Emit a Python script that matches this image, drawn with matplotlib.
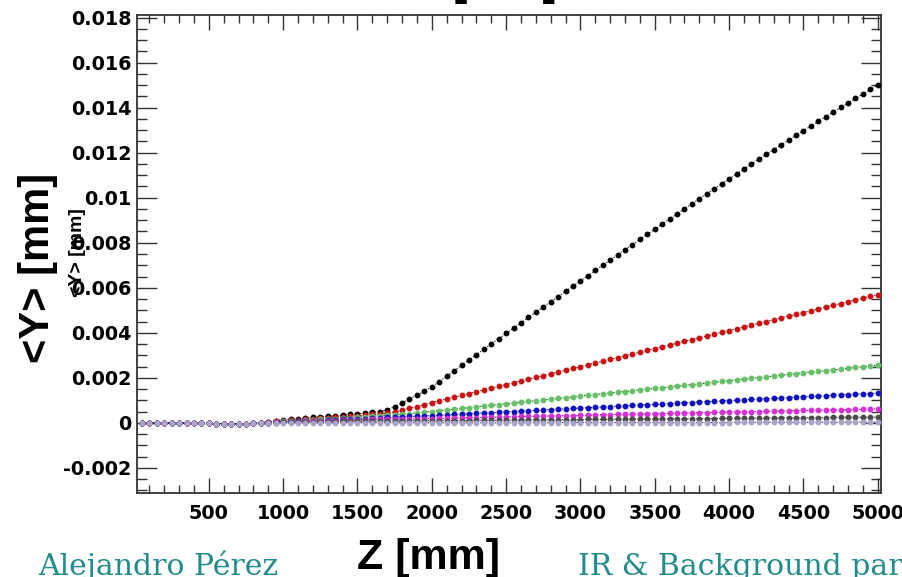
import numpy as np
import matplotlib
matplotlib.use("Agg")
import matplotlib.pyplot as plt
from matplotlib.ticker import MultipleLocator, FuncFormatter

# Z positions (mm)
z = np.arange(50, 5001, 50)

# <Y> values in units of 1e-4 mm
early = [0.0, 0.0, -0.05, -0.1, -0.1, -0.15, -0.2, -0.25, -0.3, -0.3,
         -0.35, -0.4, -0.4, -0.4, -0.35, -0.3]
black = early + [0.1, 0.5, 1.0,
    1.4, 1.7, 1.9, 2.1, 2.4, 2.6, 2.9, 3.1, 3.4, 3.7, 4.0, 4.3, 4.6, 5.0, 5.8, 7.2, 8.9, 10.6, 12.3, 14.0,
    15.9, 18.3, 20.7, 23.1, 25.5, 27.9, 30.3, 32.6, 35.0, 37.4, 39.7,
    42.1, 44.4, 46.8, 49.1, 51.5, 53.8, 56.1, 58.4, 60.8, 63.1,
    65.4, 67.7, 70.0, 72.3, 74.6, 76.9, 79.2, 81.5, 83.8, 86.0,
    88.3, 90.6, 92.8, 95.1, 97.3, 99.6, 101.8, 104.0, 106.2, 108.4,
    110.6, 112.8, 115.0, 117.1, 119.3, 121.4, 123.5, 125.6, 127.7, 129.8,
    131.9, 133.9, 136.0, 138.0, 140.1, 142.1, 144.1, 146.1, 148.1, 150.1]
red = early + [0.0, 0.3, 0.7,
    1.0, 1.2, 1.4, 1.6, 1.8, 2.0, 2.2, 2.4, 2.7, 2.9, 3.2, 3.4, 3.7, 4.0, 4.3, 4.8, 5.6, 6.4, 7.2, 8.1,
    9.0, 9.8, 10.6, 11.4, 12.2, 13.0, 13.8, 14.6, 15.4, 16.2, 17.0,
    17.8, 18.6, 19.4, 20.2, 21.0, 21.8, 22.6, 23.4, 24.2, 25.0,
    25.8, 26.6, 27.4, 28.2, 29.0, 29.8, 30.6, 31.4, 32.2, 33.0,
    33.8, 34.6, 35.4, 36.2, 37.0, 37.8, 38.6, 39.4, 40.2, 41.0,
    41.8, 42.6, 43.4, 44.2, 45.0, 45.8, 46.6, 47.4, 48.2, 49.0,
    49.8, 50.6, 51.4, 52.2, 53.0, 53.8, 54.6, 55.4, 56.2, 57.0]
green = early + [-0.1, 0.1, 0.4,
    0.6, 0.8, 1.0, 1.1, 1.3, 1.5, 1.7, 1.9, 2.1, 2.3, 2.5, 2.7, 2.9, 3.1, 3.3, 3.5, 3.8, 4.1, 4.4, 4.7,
    5.0, 5.3, 5.7, 6.0, 6.4, 6.7, 7.1, 7.4, 7.7, 8.1, 8.4,
    8.8, 9.1, 9.5, 9.8, 10.1, 10.5, 10.8, 11.2, 11.5, 11.9,
    12.2, 12.5, 12.9, 13.2, 13.6, 13.9, 14.3, 14.6, 14.9, 15.3,
    15.6, 16.0, 16.3, 16.7, 17.0, 17.3, 17.7, 18.0, 18.4, 18.7,
    19.1, 19.4, 19.7, 20.1, 20.4, 20.8, 21.1, 21.5, 21.8, 22.2,
    22.5, 22.8, 23.2, 23.5, 23.9, 24.2, 24.6, 24.9, 25.2, 25.6]
blue = early + [-0.1, 0.1, 0.3,
    0.4, 0.5, 0.6, 0.8, 0.9, 1.0, 1.2, 1.3, 1.5, 1.6, 1.8, 1.9, 2.1, 2.2, 2.4, 2.5, 2.7, 2.8, 2.9, 3.1,
    3.2, 3.4, 3.5, 3.7, 3.9, 4.0, 4.2, 4.4, 4.5, 4.7, 4.9,
    5.0, 5.2, 5.4, 5.5, 5.7, 5.9, 6.0, 6.2, 6.4, 6.5,
    6.7, 6.9, 7.0, 7.2, 7.4, 7.5, 7.7, 7.9, 8.0, 8.2,
    8.4, 8.5, 8.7, 8.9, 9.0, 9.2, 9.4, 9.5, 9.7, 9.9,
    10.0, 10.2, 10.4, 10.5, 10.7, 10.9, 11.0, 11.2, 11.4, 11.5,
    11.7, 11.9, 12.0, 12.2, 12.4, 12.5, 12.7, 12.9, 13.0, 13.2]
magenta = early + [-0.1, 0.0, 0.2,
    0.3, 0.4, 0.5, 0.6, 0.7, 0.8, 0.9, 1.0, 1.1, 1.2, 1.3, 1.4, 1.5, 1.5, 1.6, 1.6, 1.7, 1.7, 1.8, 1.8,
    1.9, 2.0, 2.0, 2.1, 2.2, 2.3, 2.3, 2.4, 2.5, 2.5, 2.6,
    2.7, 2.8, 2.8, 2.9, 3.0, 3.0, 3.1, 3.2, 3.2, 3.3,
    3.4, 3.5, 3.5, 3.6, 3.7, 3.7, 3.8, 3.9, 4.0, 4.0,
    4.1, 4.2, 4.2, 4.3, 4.4, 4.5, 4.5, 4.6, 4.7, 4.7,
    4.8, 4.9, 5.0, 5.0, 5.1, 5.2, 5.2, 5.3, 5.4, 5.5,
    5.5, 5.6, 5.7, 5.7, 5.8, 5.9, 6.0, 6.0, 6.1, 6.2]
darkgray = early + [-0.15, 0.0, 0.1,
    0.2, 0.2, 0.3, 0.3, 0.4, 0.4, 0.5, 0.5, 0.6, 0.6, 0.6, 0.7, 0.7, 0.7, 0.8, 0.8, 0.8, 0.8, 0.9, 0.9,
    0.9, 0.9, 1.0, 1.0, 1.0, 1.0, 1.1, 1.1, 1.1, 1.1, 1.2,
    1.2, 1.2, 1.3, 1.3, 1.3, 1.3, 1.4, 1.4, 1.4, 1.4,
    1.5, 1.5, 1.5, 1.6, 1.6, 1.6, 1.6, 1.7, 1.7, 1.7,
    1.7, 1.8, 1.8, 1.8, 1.8, 1.9, 1.9, 1.9, 2.0, 2.0,
    2.0, 2.0, 2.1, 2.1, 2.1, 2.1, 2.2, 2.2, 2.2, 2.2,
    2.3, 2.3, 2.3, 2.4, 2.4, 2.4, 2.4, 2.5, 2.5, 2.5]
lavender = early + [-0.2, -0.1, 0.0,
    0.0, 0.0, 0.0, 0.0, 0.0, 0.0, 0.0, 0.0, 0.0, 0.0, 0.0, 0.0, 0.0, 0.0, 0.0, 0.0, 0.0, 0.0, 0.0, 0.0,
    0.0, 0.0, 0.0, 0.0, 0.0, 0.0, 0.0, 0.0, 0.0, 0.0, 0.0,
    0.0, 0.0, 0.0, 0.0, 0.0, 0.0, 0.1, 0.1, 0.1, 0.1,
    0.1, 0.1, 0.1, 0.1, 0.1, 0.1, 0.1, 0.1, 0.1, 0.1,
    0.1, 0.1, 0.1, 0.1, 0.1, 0.1, 0.1, 0.1, 0.1, 0.1,
    0.2, 0.2, 0.2, 0.2, 0.2, 0.2, 0.2, 0.2, 0.2, 0.2,
    0.2, 0.2, 0.2, 0.2, 0.2, 0.3, 0.3, 0.3, 0.3, 0.3]

series = [black, red, green, blue, magenta, darkgray, lavender]
colors = ["#000000", "#cc1111", "#66c266", "#1010c0", "#d830d8", "#4a4a4a", "#aaa3cc"]

x_ticks = [500, 1000, 1500, 2000, 2500, 3000, 3500, 4000, 4500, 5000]

fig = plt.figure(figsize=(9.03, 5.77), dpi=100)
ax = fig.add_axes([137/903, 1-493/577, (881-137)/903, (493-15)/577])

for vals, c in zip(series, colors):
    y = np.array(vals) * 1e-4
    ax.plot(z, y, linestyle=(0, (1.5, 1.5)), color="#222222", lw=0.7, zorder=2)
    ax.plot(z, y, linestyle="none", marker="o", ms=3.2, mfc=c, mec=c, zorder=3)

ax.set_xlim(17, 5022)
ax.set_ylim(-0.00312, 0.01812)
ax.set_xticks(x_ticks)
ax.xaxis.set_minor_locator(MultipleLocator(100))
ax.yaxis.set_major_locator(MultipleLocator(0.002))
ax.yaxis.set_minor_locator(MultipleLocator(0.0005))

def yfmt(v, pos):
    if abs(v) < 1e-9:
        return "0"
    s = f"{v:.3f}"
    if s.endswith("0"):
        s = s[:-1]
    return s
ax.yaxis.set_major_formatter(FuncFormatter(yfmt))

for sp in ax.spines.values():
    sp.set_color("#333333")
    sp.set_linewidth(1.3)

ax.tick_params(axis="y", which="major", direction="in", length=14.4, width=1.0,
               color="#333333", left=True, right=True, pad=4)
ax.tick_params(axis="y", which="minor", direction="in", length=7.2, width=1.0,
               color="#333333", left=True, right=True)
ax.tick_params(axis="x", which="major", direction="in", length=10.5, width=1.0,
               color="#333333", bottom=True, top=True, pad=8)
ax.tick_params(axis="x", which="minor", direction="in", length=5.5, width=1.0,
               color="#333333", bottom=True, top=True)

for lab in ax.get_xticklabels() + ax.get_yticklabels():
    lab.set_fontfamily("DejaVu Sans")
    lab.set_fontweight("bold")
    lab.set_fontsize(13.8)

# Axis titles
fig.text(38/903, 1-267.5/577, "<Y> [mm]", rotation=90, ha="center", va="center",
         fontsize=30, fontweight="bold", family="Liberation Sans")
fig.text(78/903, 1-252.5/577, "<Y> [mm]", rotation=90, ha="center", va="center",
         fontsize=14, fontweight="bold", family="Liberation Sans")
fig.text(429/903, 1-558/577, "Z [mm]", ha="center", va="center",
         fontsize=31, fontweight="bold", family="Liberation Sans")
# Clipped title at the top (only bracket bottoms visible)
fig.text(453/903, 1 + 5/577, "[mm]", ha="left", va="baseline",
         fontsize=31, fontweight="bold", family="Liberation Sans")

# Slide footer texts
teal = "#208c8c"
fig.text(38/903, 1-575/577, "Alejandro Pérez", ha="left", va="baseline",
         fontsize=21.5, color=teal, family="DejaVu Serif")
fig.text(578/903, 1-575/577, "IR & Background par", ha="left", va="baseline",
         fontsize=21.5, color=teal, family="DejaVu Serif")

fig.savefig("out.png", dpi=100)
